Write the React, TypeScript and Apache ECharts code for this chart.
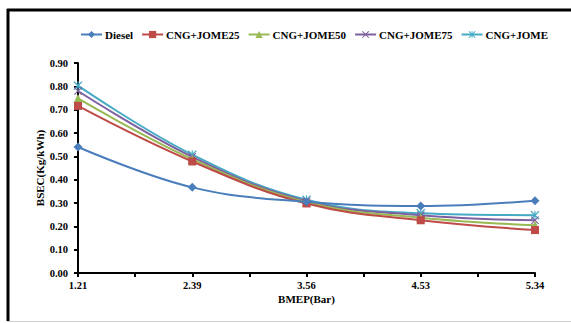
import React, { useEffect, useRef } from "react";
import * as echarts from "echarts";

const categories = ["1.21", "2.39", "3.56", "4.53", "5.34"];
const seriesNames = ["Diesel", "CNG+JOME25", "CNG+JOME50", "CNG+JOME75", "CNG+JOME"];
const diesel = [0.54, 0.367, 0.305, 0.287, 0.31];
const jome25 = [0.716, 0.478, 0.298, 0.226, 0.184];
const jome50 = [0.748, 0.488, 0.303, 0.237, 0.205];
const jome75 = [0.78, 0.498, 0.308, 0.248, 0.226];
const jome100 = [0.803, 0.507, 0.314, 0.256, 0.248];
const colors = ["#4a7ebb", "#be4b48", "#98b954", "#7d60a0", "#46aac5"];

const X_SYMBOL = "path://M0,1 L1,0 L5,4 L9,0 L10,1 L6,5 L10,9 L9,10 L5,6 L1,10 L0,9 L4,5 Z";
const STAR_SYMBOL =
  "path://M4.4,0 L5.6,0 L5.6,10 L4.4,10 Z M0,1 L1,0 L5,4 L9,0 L10,1 L6,5 L10,9 L9,10 L5,6 L1,10 L0,9 L4,5 Z";

const FONT = "Liberation Serif, DejaVu Serif, serif";

export default function App() {
  const ref = useRef<HTMLDivElement>(null);
  useEffect(() => {
    if (!ref.current) return;
    const chart = echarts.init(ref.current, null, { renderer: "svg" });
    const data = [diesel, jome25, jome50, jome75, jome100];
    const symbols = ["diamond", "rect", "triangle", X_SYMBOL, STAR_SYMBOL];
    const sizes = [9, 8, 9, 8, 9];
    chart.setOption({
      animation: false,
      backgroundColor: "#fff",
      textStyle: { fontFamily: FONT },
      color: colors,
      legend: {
        left: 80,
        top: 29,
        padding: 0,
        itemWidth: 21,
        itemHeight: 9,
        itemGap: 8,
        textStyle: { fontFamily: FONT, fontWeight: "bold", fontSize: 11, color: "#000", padding: [0, 0, 0, -2] },
        data: seriesNames,
      },
      grid: { left: 78, right: 36, top: 63, bottom: 50 },
      xAxis: [
        {
          type: "category",
          data: categories,
          boundaryGap: false,
          name: "BMEP(Bar)",
          nameLocation: "middle",
          nameGap: 20,
          nameMoveOverlap: false,
          nameTextStyle: { fontFamily: FONT, fontWeight: "bold", fontSize: 11, color: "#000" },
          axisLine: { lineStyle: { color: "#000", width: 2 } },
          axisTick: { show: false },
          axisLabel: { fontFamily: FONT, fontWeight: "bold", fontSize: 10.5, color: "#000", margin: 7 },
          splitLine: { show: false },
        },
        {
          type: "category",
          data: ["", "", "", "", "", "", "", ""],
          boundaryGap: true,
          position: "bottom",
          axisLine: { show: false },
          axisTick: { show: true, length: 4, lineStyle: { color: "#000", width: 2 } },
          axisLabel: { show: false },
          splitLine: { show: false },
        },
      ],
      yAxis: {
        type: "value",
        min: 0,
        max: 0.9,
        interval: 0.1,
        name: "BSEC(Kg/kWh)",
        nameLocation: "middle",
        nameGap: 33,
        nameMoveOverlap: false,
        nameTextStyle: { fontFamily: FONT, fontWeight: "bold", fontSize: 11, color: "#000" },
        axisLine: { show: true, lineStyle: { color: "#000", width: 2 } },
        axisTick: { show: true, length: 4, lineStyle: { color: "#000", width: 2 } },
        axisLabel: {
          fontFamily: FONT,
          fontWeight: "bold",
          fontSize: 10.5,
          color: "#000",
          margin: 10,
          formatter: (v: number) => v.toFixed(2),
        },
        splitLine: { show: false },
      },
      series: seriesNames.map((name, i) => ({
        name,
        type: "line",
        xAxisIndex: 0,
        data: data[i],
        smooth: 0.4,
        symbol: symbols[i],
        symbolSize: sizes[i],
        showAllSymbol: true,
        lineStyle: { width: 2, color: colors[i] },
        itemStyle: { color: colors[i] },
        z: 10 - i,
      })),
      graphic: [
        { type: "line", shape: { x1: 7, y1: 10, x2: 571, y2: 10 }, style: { stroke: "#000", lineWidth: 3 }, silent: true },
        { type: "line", shape: { x1: 8, y1: 9, x2: 8, y2: 321 }, style: { stroke: "#000", lineWidth: 3 }, silent: true },
        { type: "line", shape: { x1: 7, y1: 321.5, x2: 571, y2: 321.5 }, style: { stroke: "#d0d0d0", lineWidth: 1 }, silent: true },
      ],
    });
    return () => chart.dispose();
  }, []);
  return (
    <div
      ref={ref}
      style={{ position: "fixed", left: 0, top: 0, width: 571, height: 323, background: "#fff" }}
    />
  );
}
